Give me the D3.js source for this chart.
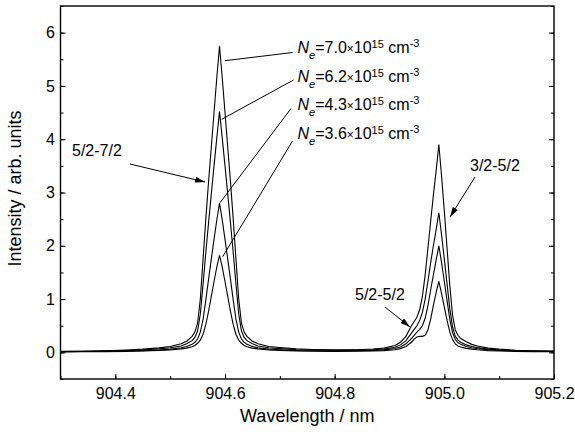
<!DOCTYPE html>
<html>
<head>
<meta charset="utf-8">
<title>Spectrum</title>
<script src="https://cdn.jsdelivr.net/npm/d3@7"></script>
<style>
  body { margin: 0; background: #fff; }
  svg text { font-family: "Liberation Sans", Arial, sans-serif; fill: #000; }
</style>
</head>
<body>
<div id="chart"></div>
<script>
// wavelength grid (nm), shared by all four spectra
const wavelength = [
  904.30, 904.34, 904.38, 904.42, 904.45, 904.48, 904.50, 904.52, 904.53, 904.54,
  904.545, 904.55, 904.555, 904.56, 904.565, 904.57, 904.575, 904.58, 904.585, 904.59,
  904.595, 904.60, 904.605, 904.61, 904.615, 904.62, 904.625, 904.63, 904.635, 904.64,
  904.65, 904.66, 904.68, 904.70, 904.73, 904.76, 904.80, 904.84, 904.87, 904.89,
  904.91, 904.92, 904.93, 904.94, 904.945, 904.95, 904.955, 904.96, 904.965, 904.97,
  904.975, 904.98, 904.985, 904.99, 904.995, 905.00, 905.005, 905.01, 905.015, 905.02,
  905.025, 905.03, 905.04, 905.05, 905.06, 905.08, 905.10, 905.13, 905.16, 905.20
];
// Ne = 7.0e15
const ne70 = [
  0.018, 0.022, 0.03, 0.045, 0.06, 0.085, 0.11, 0.16, 0.21, 0.3,
  0.38, 0.55, 1.0, 1.75, 2.5, 3.2, 3.85, 4.5, 5.15, 5.75,
  5.15, 4.5, 3.85, 3.2, 2.5, 1.75, 1.0, 0.55, 0.38, 0.3,
  0.21, 0.16, 0.11, 0.09, 0.065, 0.055, 0.048, 0.05, 0.062, 0.08,
  0.13, 0.19, 0.3, 0.5, 0.58, 0.66, 0.8, 1.05, 1.45, 1.95,
  2.45, 2.95, 3.4, 3.9, 3.3, 2.65, 1.95, 1.25, 0.7, 0.42,
  0.32, 0.26, 0.2, 0.15, 0.12, 0.08, 0.06, 0.04, 0.03, 0.025
];
// Ne = 6.2e15
const ne62 = [
  0.015, 0.019, 0.025, 0.035, 0.045, 0.065, 0.085, 0.12, 0.16, 0.22,
  0.28, 0.4, 0.72, 1.28, 1.87, 2.43, 2.97, 3.5, 4.02, 4.52,
  4.02, 3.5, 2.97, 2.43, 1.87, 1.28, 0.72, 0.4, 0.28, 0.22,
  0.16, 0.12, 0.085, 0.07, 0.05, 0.043, 0.04, 0.042, 0.05, 0.062,
  0.095, 0.14, 0.22, 0.36, 0.43, 0.5, 0.6, 0.75, 1.0, 1.33,
  1.68, 2.0, 2.3, 2.62, 2.2, 1.75, 1.28, 0.82, 0.48, 0.3,
  0.23, 0.19, 0.14, 0.11, 0.09, 0.06, 0.045, 0.033, 0.025, 0.02
];
// Ne = 4.3e15
const ne43 = [
  0.012, 0.015, 0.019, 0.025, 0.033, 0.045, 0.06, 0.085, 0.11, 0.15,
  0.19, 0.25, 0.38, 0.62, 0.98, 1.37, 1.75, 2.12, 2.48, 2.8,
  2.48, 2.12, 1.75, 1.37, 0.98, 0.62, 0.38, 0.25, 0.19, 0.15,
  0.11, 0.085, 0.06, 0.048, 0.036, 0.031, 0.028, 0.03, 0.037, 0.046,
  0.072, 0.1, 0.16, 0.26, 0.32, 0.38, 0.43, 0.5, 0.64, 0.87,
  1.17, 1.45, 1.73, 2.0, 1.68, 1.33, 0.97, 0.62, 0.37, 0.24,
  0.18, 0.15, 0.11, 0.085, 0.07, 0.05, 0.037, 0.027, 0.02, 0.016
];
// Ne = 3.6e15
const ne36 = [
  0.009, 0.011, 0.014, 0.018, 0.025, 0.035, 0.045, 0.065, 0.08, 0.105,
  0.13, 0.17, 0.23, 0.34, 0.52, 0.77, 1.05, 1.33, 1.6, 1.82,
  1.6, 1.33, 1.05, 0.77, 0.52, 0.34, 0.23, 0.17, 0.13, 0.105,
  0.08, 0.065, 0.045, 0.036, 0.027, 0.022, 0.019, 0.02, 0.025, 0.032,
  0.05, 0.07, 0.11, 0.19, 0.25, 0.29, 0.3, 0.3, 0.32, 0.42,
  0.62, 0.88, 1.12, 1.33, 1.1, 0.85, 0.6, 0.38, 0.24, 0.16,
  0.12, 0.1, 0.075, 0.06, 0.048, 0.033, 0.025, 0.019, 0.014, 0.011
];
const series = [ne70, ne62, ne43, ne36];
const neLabels = ["7.0", "6.2", "4.3", "3.6"];
const xTicks = [904.4, 904.6, 904.8, 905.0, 905.2];
const yTicks = [0, 1, 2, 3, 4, 5, 6];

const W = 575, H = 432;
const pLeft = 60.5, pRight = 554, pTop = 6, pBottom = 379;

const svg = d3.select("#chart").append("svg")
  .attr("width", W).attr("height", H);

const x = d3.scaleLinear().domain([904.3, 905.2]).range([pLeft, pRight]);
const y = d3.scaleLinear().domain([-0.5, 6.5]).range([pBottom, pTop]);

const defs = svg.append("defs");
defs.append("clipPath").attr("id", "clip")
  .append("rect").attr("x", pLeft).attr("y", pTop)
  .attr("width", pRight - pLeft).attr("height", pBottom - pTop);

// arrow head
defs.append("marker")
  .attr("id", "arrow")
  .attr("viewBox", "0 0 10 6")
  .attr("refX", 10).attr("refY", 3)
  .attr("markerWidth", 10).attr("markerHeight", 6)
  .attr("markerUnits", "userSpaceOnUse")
  .attr("orient", "auto")
  .append("path").attr("d", "M0,0L10,3L0,6Z").attr("fill", "#000");

// curves
const line = d3.line()
  .x((d, i) => x(wavelength[i]))
  .y(d => y(d));

svg.append("g").attr("clip-path", "url(#clip)")
  .selectAll("path")
  .data(series)
  .join("path")
  .attr("fill", "none")
  .attr("stroke", "#000")
  .attr("stroke-width", 1.1)
  .attr("stroke-linejoin", "miter")
  .attr("d", line);

// axes (ticks point inward)
const fmtX = d3.format(".1f");
const minorX = d3.range(904.3, 905.21, 0.1).map(v => +v.toFixed(1));
const minorY = d3.range(-0.5, 6.51, 0.5).map(v => +v.toFixed(1));

function styleAxis(g) {
  g.select(".domain").remove();
  g.selectAll("line").attr("stroke", "#000").attr("stroke-width", 1);
  g.selectAll("text").attr("font-size", 16)
    .attr("font-family", "'Liberation Sans', Arial, sans-serif");
}

svg.append("g").attr("transform", `translate(0,${pBottom})`)
  .call(d3.axisBottom(x).tickValues(minorX).tickSize(-3).tickFormat(""))
  .call(styleAxis);
svg.append("g").attr("transform", `translate(0,${pBottom})`)
  .call(d3.axisBottom(x).tickValues(xTicks).tickSize(-5).tickPadding(9).tickFormat(fmtX))
  .call(styleAxis);

svg.append("g").attr("transform", `translate(${pLeft},0)`)
  .call(d3.axisLeft(y).tickValues(minorY).tickSize(-3).tickFormat(""))
  .call(styleAxis);
svg.append("g").attr("transform", `translate(${pLeft},0)`)
  .call(d3.axisLeft(y).tickValues(yTicks).tickSize(-5).tickPadding(5.5).tickFormat(d3.format("d")))
  .call(styleAxis);

svg.append("g").attr("transform", `translate(${pRight},0)`)
  .call(d3.axisRight(y).tickValues(minorY).tickSize(-3).tickFormat(""))
  .call(styleAxis);
svg.append("g").attr("transform", `translate(${pRight},0)`)
  .call(d3.axisRight(y).tickValues(yTicks).tickSize(-5).tickFormat(""))
  .call(styleAxis);

// frame
svg.append("rect")
  .attr("x", pLeft).attr("y", pTop)
  .attr("width", pRight - pLeft).attr("height", pBottom - pTop)
  .attr("fill", "none").attr("stroke", "#000").attr("stroke-width", 1.4);

// axis titles
svg.append("text")
  .attr("x", (pLeft + pRight) / 2).attr("y", 422)
  .attr("text-anchor", "middle").attr("font-size", 18)
  .text("Wavelength / nm");
svg.append("text")
  .attr("transform", `translate(21,${(pTop + pBottom) / 2 - 4}) rotate(-90)`)
  .attr("text-anchor", "middle").attr("font-size", 18)
  .text("Intensity / arb. units");

// Ne labels with leader lines
const labelX = 297.5;
const labelY = [53, 81.5, 110, 138.5];
const leaderFrom = [[292.5, 52.5], [293.5, 80], [291, 108.5], [292.5, 141]];
const leaderTo = [[225, 60.7], [221.7, 119.3], [220, 202.7], [222.7, 256.7]];

neLabels.forEach((v, i) => {
  svg.append("line")
    .attr("x1", leaderFrom[i][0]).attr("y1", leaderFrom[i][1])
    .attr("x2", leaderTo[i][0]).attr("y2", leaderTo[i][1])
    .attr("stroke", "#000").attr("stroke-width", 1);
  const t = svg.append("text").attr("x", labelX).attr("y", labelY[i]).attr("font-size", 16);
  t.append("tspan").attr("font-style", "italic").text("N");
  t.append("tspan").attr("font-style", "italic").attr("font-size", 11).attr("dy", 6).text("e");
  t.append("tspan").attr("dy", -6).text(`=${v}`);
  t.append("tspan").attr("font-size", 12).text("\u00d7");
  t.append("tspan").text("10");
  t.append("tspan").attr("font-size", 11).attr("dy", -5).text("15");
  t.append("tspan").attr("dy", 5).text(" cm");
  t.append("tspan").attr("font-size", 11).attr("dy", -6).text("-3");
});

// transition labels with arrows
const notes = [
  { text: "5/2-7/2", tx: 72, ty: 156, from: [130, 164], to: [205, 182] },
  { text: "3/2-5/2", tx: 470, ty: 171, from: [475, 177], to: [450, 217] },
  { text: "5/2-5/2", tx: 355, ty: 300, from: [385, 307], to: [410, 327] }
];
notes.forEach(n => {
  svg.append("text").attr("x", n.tx).attr("y", n.ty).attr("font-size", 16).text(n.text);
  svg.append("line")
    .attr("x1", n.from[0]).attr("y1", n.from[1])
    .attr("x2", n.to[0]).attr("y2", n.to[1])
    .attr("stroke", "#000").attr("stroke-width", 1)
    .attr("marker-end", "url(#arrow)");
});
</script>
</body>
</html>
